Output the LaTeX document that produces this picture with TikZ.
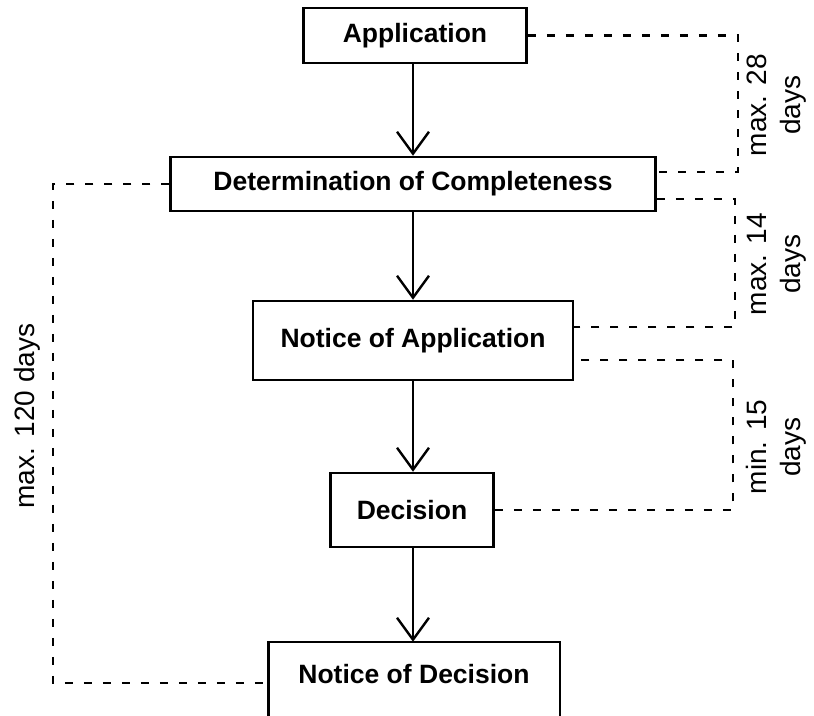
\documentclass[tikz,border=0pt]{standalone}
\usepackage{fontspec}
\setmainfont{Liberation Sans}
\usetikzlibrary{arrows.meta}
\begin{document}
\begin{tikzpicture}[x=1pt,y=-1pt,
  box/.style={draw, line width=2.5pt, inner sep=0pt, font=\fontsize{26.5}{32}\selectfont\bfseries, anchor=center},
  flow/.style={line width=2.4pt, -{Straight Barb[length=22pt,width=32pt,line width=2.4pt]}},
  dsh/.style={line width=2.8pt, dash pattern=on 8pt off 11pt},
  lbl/.style={rotate=90, align=center, font=\fontsize{28}{34}\selectfont}]
\useasboundingbox (0,0) rectangle (814,715);
\clip (0,0) rectangle (814,715);
% boxes
\node[box, minimum width=223pt, minimum height=55pt] (app) at (415,35.5) {Application};
\node[box, minimum width=485pt, minimum height=54pt] (det) at (413,184) {Determination of Completeness};
\node[box, minimum width=320pt, minimum height=79pt] (noa) at (413,340.5) {Notice of Application};
\node[box, minimum width=163pt, minimum height=74pt] (dec) at (412,510) {Decision};
\node[box, draw=none, minimum width=289pt, minimum height=62pt] (nod) at (414,674) {Notice of Decision};
\draw[line width=2.5pt] ([yshift=-30pt]nod.south west) |- (nod.north east) -- ([yshift=-30pt]nod.south east);
% flow arrows
\coordinate (ax) at (413,0);
\draw[flow] (app.south -| ax) -- (det.north -| ax);
\draw[flow] (det.south -| ax) -- (noa.north -| ax);
\draw[flow] (noa.south -| ax) -- (dec.north -| ax);
\draw[flow] (dec.south -| ax) -- (nod.north -| ax);
% dashed time spans
\coordinate (r1) at (738,172);
\draw[dsh] (app.east) -| (r1) -- (r1 -| det.east);
\coordinate (r2a) at (735,199);
\coordinate (r2b) at (735,327);
\draw[dsh] (r2a -| det.east) -- (r2a) -- (r2b) -- (r2b -| noa.east);
\coordinate (r3) at (733,360);
\draw[dsh] (dec.east) -| (r3) -- (r3 -| noa.east);
\coordinate (l1) at (53,683);
\draw[dsh] (det.west) -| (l1) -- (l1 -| nod.west);
% labels
\node[lbl] (t1) at (777,105) {max. 28\\days};
\node[lbl] (t2) at (777,264) {max. 14\\days};
\node[lbl] (t3) at (776,447) {min. 15\\days};
\node[lbl] (t4) at (27,416) {max. 120 days};
\end{tikzpicture}
\end{document}
